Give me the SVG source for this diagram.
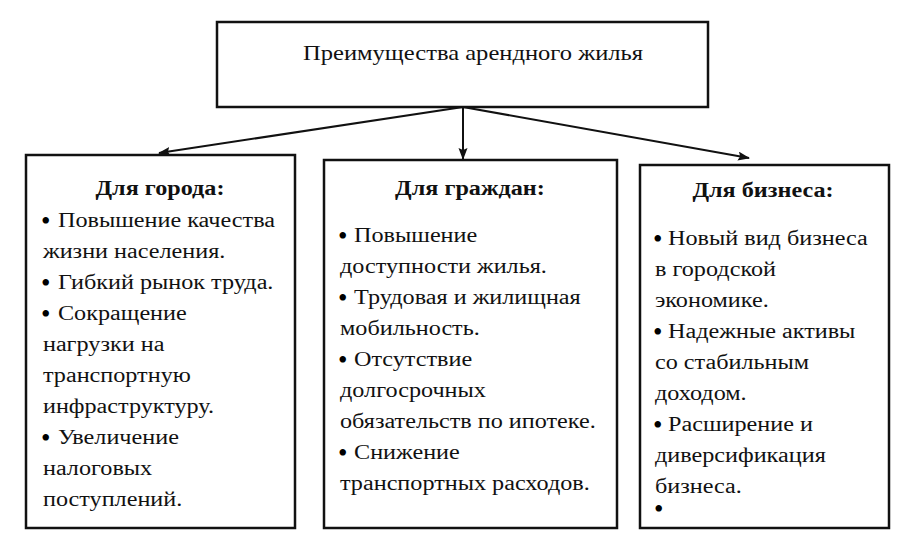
<svg xmlns="http://www.w3.org/2000/svg" width="912" height="536" viewBox="0 0 912 536">
<defs>
<style>
.box{fill:#fff;stroke:#111;stroke-width:2.5}
.t{font-family:Liberation Serif, serif;font-size:20px;fill:#111}
.b{font-family:Liberation Serif, serif;font-size:27px;fill:#000}
.h{font-family:Liberation Serif, serif;font-size:20px;font-weight:bold;fill:#111;text-anchor:middle}
.title{font-family:Liberation Serif, serif;font-size:21px;fill:#111;text-anchor:middle}
.c{stroke:#111;stroke-width:2;fill:none}
</style>
<marker id="ah" markerWidth="12" markerHeight="10" refX="11" refY="4.5" orient="auto" markerUnits="userSpaceOnUse">
<path d="M0,0 L12,4.5 L0,9 L2,4.5 z" fill="#111"/>
</marker>
</defs>
<rect width="912" height="536" fill="#fff"/>
<g id="root">
<rect class="box" x="217" y="22" width="491" height="85"/>
<text class="title" transform="scale(1.17 1)" x="404.3" y="60">Преимущества арендного жилья</text>
</g>
<g id="connectors">
<line class="c" x1="463" y1="107" x2="159" y2="153" marker-end="url(#ah)"/>
<line class="c" x1="463" y1="107" x2="463" y2="159" marker-end="url(#ah)"/>
<line class="c" x1="463" y1="107" x2="749" y2="158" marker-end="url(#ah)"/>
</g>
<g id="city">
<rect class="box" x="26" y="155" width="269" height="373"/>
<g transform="scale(1.21 1)">
<text class="h" x="132.2" y="195">Для города:</text>
<text class="t" x="47.9" y="227">Повышение качества</text>
<text class="t" x="35.5" y="258">жизни населения.</text>
<text class="t" x="47.9" y="289">Гибкий рынок труда.</text>
<text class="t" x="47.9" y="320">Сокращение</text>
<text class="t" x="35.5" y="351">нагрузки на</text>
<text class="t" x="35.5" y="382">транспортную</text>
<text class="t" x="35.5" y="413">инфраструктуру.</text>
<text class="t" x="47.9" y="444">Увеличение</text>
<text class="t" x="35.5" y="475">налоговых</text>
<text class="t" x="35.5" y="506">поступлений.</text>
</g>
<text class="b" x="41" y="230">•</text>
<text class="b" x="41" y="292">•</text>
<text class="b" x="41" y="323">•</text>
<text class="b" x="41" y="447">•</text>
</g>
<g id="citizens">
<rect class="box" x="324" y="160" width="293" height="368"/>
<g transform="scale(1.21 1)">
<text class="h" x="388.4" y="195">Для граждан:</text>
<text class="t" x="292.6" y="242">Повышение</text>
<text class="t" x="281" y="273">доступности жилья.</text>
<text class="t" x="292.6" y="304">Трудовая и жилищная</text>
<text class="t" x="281" y="335">мобильность.</text>
<text class="t" x="292.6" y="366">Отсутствие</text>
<text class="t" x="281" y="397">долгосрочных</text>
<text class="t" x="281" y="428">обязательств по ипотеке.</text>
<text class="t" x="292.6" y="459">Снижение</text>
<text class="t" x="281" y="490">транспортных расходов.</text>
</g>
<text class="b" x="338" y="245">•</text>
<text class="b" x="338" y="307">•</text>
<text class="b" x="338" y="369">•</text>
<text class="b" x="338" y="462">•</text>
</g>
<g id="business">
<rect class="box" x="640" y="165" width="249" height="363"/>
<g transform="scale(1.21 1)">
<text class="h" x="630.6" y="197">Для бизнеса:</text>
<text class="t" x="552.1" y="245">Новый вид бизнеса</text>
<text class="t" x="541.3" y="276">в городской</text>
<text class="t" x="541.3" y="307">экономике.</text>
<text class="t" x="552.1" y="338">Надежные активы</text>
<text class="t" x="541.3" y="369">со стабильным</text>
<text class="t" x="541.3" y="400">доходом.</text>
<text class="t" x="552.1" y="431">Расширение и</text>
<text class="t" x="541.3" y="462">диверсификация</text>
<text class="t" x="541.3" y="493">бизнеса.</text>
</g>
<text class="b" x="653" y="248">•</text>
<text class="b" x="653" y="341">•</text>
<text class="b" x="653" y="434">•</text>
<text class="b" x="654" y="518" font-size="23">•</text>
</g>
</svg>
